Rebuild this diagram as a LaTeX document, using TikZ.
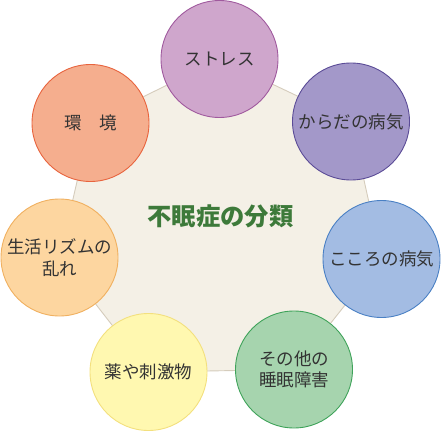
\documentclass[tikz,border=0pt]{standalone}
\usepackage{fontspec}
\setmainfont{Noto Sans CJK JP}
\newfontfamily\cjk{Noto Sans CJK JP}
\definecolor{txt}{HTML}{333333}
\definecolor{ttl}{HTML}{3D7A3A}
\definecolor{hepfill}{HTML}{F4F0E6}
\definecolor{hepline}{HTML}{D5CCBC}
\definecolor{fA}{HTML}{CFA6CC}\definecolor{bA}{HTML}{A05A9E}
\definecolor{fB}{HTML}{A398C9}\definecolor{bB}{HTML}{5B4C97}
\definecolor{fC}{HTML}{A3BCE3}\definecolor{bC}{HTML}{4A80C4}
\definecolor{fD}{HTML}{A6D4AE}\definecolor{bD}{HTML}{3FA35A}
\definecolor{fE}{HTML}{FFF8B0}\definecolor{bE}{HTML}{F3E07E}
\definecolor{fF}{HTML}{FDD6A0}\definecolor{bF}{HTML}{F0B060}
\definecolor{fG}{HTML}{F5AE8E}\definecolor{bG}{HTML}{E8643E}
\tikzset{
  cat/.style={circle, minimum size=117pt, inner sep=0pt, line width=0.9pt,
    text=txt, align=center, font=\cjk\fontsize{17.5}{21.5}\selectfont},
}
\begin{document}
\begin{tikzpicture}[x=1pt,y=-1pt]
\useasboundingbox (0,0) rectangle (441,433);
\coordinate (pA) at (219.5,59);
\coordinate (pB) at (351,121.5);
\coordinate (pC) at (381.5,259);
\coordinate (pD) at (294,369.5);
\coordinate (pE) at (148.5,372);
\coordinate (pF) at (59.5,257.5);
\coordinate (pG) at (90.5,123);
\draw[fill=hepfill, draw=hepline, line width=0.9pt]
  (pA) -- (pB) -- (pC) -- (pD) -- (pE) -- (pF) -- (pG) -- cycle;
\node[cat, fill=fA, draw=bA] (nA) at (pA) {ストレス};
\node[cat, fill=fB, draw=bB] (nB) at (pB) {からだの病気};
\node[cat, fill=fC, draw=bC] (nC) at (pC) {こころの病気};
\node[cat, fill=fD, draw=bD] (nD) at (pD) {その他の\\睡眠障害};
\node[cat, fill=fE, draw=bE] (nE) at (pE) {薬や刺激物};
\node[cat, fill=fF, draw=bF] (nF) at (pF) {生活リズムの\\乱れ};
\node[cat, fill=fG, draw=bG] (nG) at (pG) {環　境};
\node[text=ttl, font=\cjk\bfseries\fontsize{24.3}{28}\selectfont] (title) at (220.5,216.5) {不眠症の分類};
\end{tikzpicture}
\end{document}
